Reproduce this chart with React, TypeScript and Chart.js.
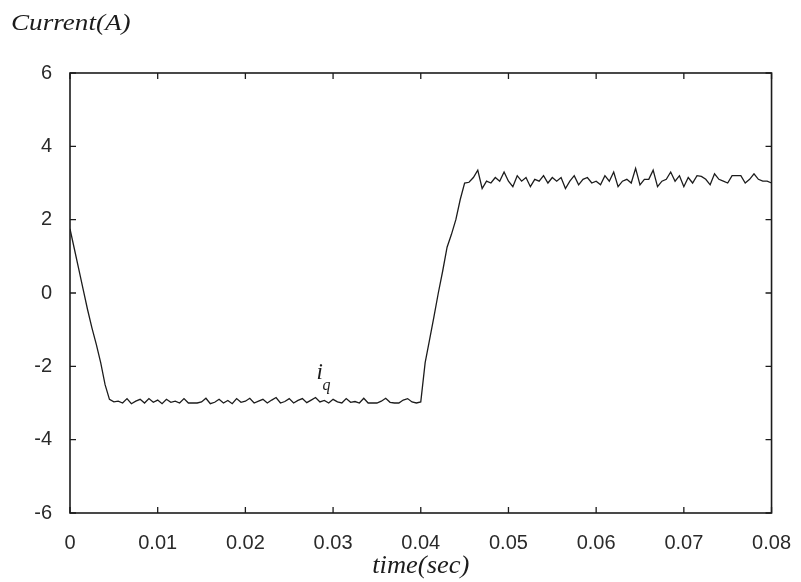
import React, { useEffect, useRef } from "react";
import { Chart, registerables } from "chart.js";

Chart.register(...registerables);

// time (sec)
const times: number[] = [
  0, 0.0005, 0.001, 0.0015, 0.002, 0.0025, 0.003, 0.0035, 0.004, 0.0045,
  0.005, 0.0055, 0.006, 0.0065, 0.007, 0.0075, 0.008, 0.0085, 0.009, 0.0095,
  0.01, 0.0105, 0.011, 0.0115, 0.012, 0.0125, 0.013, 0.0135, 0.014, 0.0145,
  0.015, 0.0155, 0.016, 0.0165, 0.017, 0.0175, 0.018, 0.0185, 0.019, 0.0195,
  0.02, 0.0205, 0.021, 0.0215, 0.022, 0.0225, 0.023, 0.0235, 0.024, 0.0245,
  0.025, 0.0255, 0.026, 0.0265, 0.027, 0.0275, 0.028, 0.0285, 0.029, 0.0295,
  0.03, 0.0305, 0.031, 0.0315, 0.032, 0.0325, 0.033, 0.0335, 0.034, 0.0345,
  0.035, 0.0355, 0.036, 0.0365, 0.037, 0.0375, 0.038, 0.0385, 0.039, 0.0395,
  0.04, 0.0405, 0.041, 0.0415, 0.042, 0.0425, 0.043, 0.0435, 0.044, 0.0445,
  0.045, 0.0455, 0.046, 0.0465, 0.047, 0.0475, 0.048, 0.0485, 0.049, 0.0495,
  0.05, 0.0505, 0.051, 0.0515, 0.052, 0.0525, 0.053, 0.0535, 0.054, 0.0545,
  0.055, 0.0555, 0.056, 0.0565, 0.057, 0.0575, 0.058, 0.0585, 0.059, 0.0595,
  0.06, 0.0605, 0.061, 0.0615, 0.062, 0.0625, 0.063, 0.0635, 0.064, 0.0645,
  0.065, 0.0655, 0.066, 0.0665, 0.067, 0.0675, 0.068, 0.0685, 0.069, 0.0695,
  0.07, 0.0705, 0.071, 0.0715, 0.072, 0.0725, 0.073, 0.0735, 0.074, 0.0745,
  0.075, 0.0755, 0.076, 0.0765, 0.077, 0.0775, 0.078, 0.0785, 0.079, 0.0795,
  0.08,
];

// i_q current (A)
const iq: number[] = [
  1.75, 1.2, 0.65, 0.1, -0.45, -0.95, -1.4, -1.9, -2.5, -2.9,
  -2.97, -2.95, -3.0, -2.88, -3.02, -2.95, -2.9, -3.0, -2.88, -2.98,
  -2.92, -3.02, -2.9, -2.98, -2.95, -3.0, -2.88, -3.0, -3.0, -3.0,
  -2.97, -2.87, -3.02, -2.98, -2.9, -3.0, -2.93, -3.02, -2.88, -2.98,
  -2.95, -2.87, -3.0, -2.95, -2.9, -3.0, -2.92, -2.85, -3.0, -2.96,
  -2.88, -3.0, -2.93, -2.88, -2.99, -2.92, -2.85, -2.97, -2.93, -3.0,
  -2.9, -2.97, -3.0, -2.88, -2.98, -2.96, -3.0, -2.87, -3.0, -3.0,
  -3.0, -2.95, -2.87, -2.98, -3.0, -3.0, -2.92, -2.88, -2.97, -3.0,
  -2.97, -1.9, -1.28, -0.65, 0.0, 0.6, 1.25, 1.6, 2.0, 2.55,
  3.0, 3.02, 3.15, 3.35, 2.85, 3.05, 3.0, 3.15, 3.05, 3.3,
  3.05, 2.9, 3.2, 3.05, 3.15, 2.9, 3.1, 3.05, 3.2, 3.0,
  3.15, 3.05, 3.15, 2.85, 3.05, 3.2, 2.95, 3.1, 3.15, 3.0,
  3.05, 2.95, 3.2, 3.05, 3.3, 2.9, 3.05, 3.1, 3.0, 3.4,
  2.95, 3.1, 3.1, 3.35, 2.9, 3.05, 3.1, 3.3, 3.05, 3.2,
  2.9, 3.15, 3.0, 3.2, 3.18, 3.1, 2.95, 3.25, 3.1, 3.05,
  3.0, 3.2, 3.2, 3.2, 3.0, 3.1, 3.25, 3.1, 3.05, 3.05,
  3.0,
];

const yTitle = "Current(A)";
const xTitle = "time(sec)";
const seriesLabel = "i";
const seriesSub = "q";
const seriesLabelAt = { x: 0.0281, y: -2.35 };

const xMin = 0, xMax = 0.08, xStep = 0.01;
const yMin = -6, yMax = 6, yStep = 2;

const INK = "#1c1c1c";

const framePlugin = {
  id: "frame",
  afterDraw(chart: any) {
    const { ctx, chartArea: a, scales } = chart;
    const xs = scales.x, ys = scales.y;
    ctx.save();
    ctx.strokeStyle = INK;
    ctx.lineWidth = 1.6;
    ctx.strokeRect(a.left, a.top, a.right - a.left, a.bottom - a.top);
    ctx.lineWidth = 1.3;
    const tl = 6;
    ctx.beginPath();
    xs.ticks.forEach((t: any) => {
      const px = xs.getPixelForValue(t.value);
      ctx.moveTo(px, a.bottom);
      ctx.lineTo(px, a.bottom - tl);
      ctx.moveTo(px, a.top);
      ctx.lineTo(px, a.top + tl);
    });
    ys.ticks.forEach((t: any) => {
      const py = ys.getPixelForValue(t.value);
      ctx.moveTo(a.left, py);
      ctx.lineTo(a.left + tl, py);
      ctx.moveTo(a.right, py);
      ctx.lineTo(a.right - tl, py);
    });
    ctx.stroke();

    ctx.fillStyle = INK;
    ctx.textBaseline = "alphabetic";
    // y title at top-left
    ctx.save();
    ctx.translate(11, 30);
    ctx.scale(1.18, 1);
    ctx.font = "italic 23px 'Liberation Serif'";
    ctx.textAlign = "left";
    ctx.fillText(yTitle, 0, 0);
    ctx.restore();
    // x title
    ctx.save();
    ctx.translate((a.left + a.right) / 2, 573);
    ctx.scale(1.06, 1);
    ctx.font = "italic 25px 'Liberation Serif'";
    ctx.textAlign = "center";
    ctx.fillText(xTitle, 0, 0);
    ctx.restore();
    // series label i_q
    const lx = xs.getPixelForValue(seriesLabelAt.x);
    const ly = ys.getPixelForValue(seriesLabelAt.y);
    ctx.textAlign = "left";
    ctx.font = "italic 23px 'Liberation Serif'";
    ctx.fillText(seriesLabel, lx, ly);
    ctx.font = "italic 16px 'Liberation Serif'";
    ctx.fillText(seriesSub, lx + 6, ly + 11);
    ctx.restore();
  },
};

export default function App() {
  const ref = useRef<HTMLCanvasElement | null>(null);
  useEffect(() => {
    if (!ref.current) return;
    const chart = new Chart(ref.current, {
      type: "line",
      data: {
        datasets: [
          {
            label: "iq",
            data: times.map((t, i) => ({ x: t, y: iq[i] })),
            borderColor: INK,
            borderWidth: 1.3,
            pointRadius: 0,
            tension: 0,
            fill: false,
          },
        ],
      },
      options: {
        responsive: false,
        animation: false,
        events: [],
        layout: { padding: { left: 0, top: 73, right: 28, bottom: 0 } },
        plugins: {
          legend: { display: false },
          tooltip: { enabled: false },
          title: { display: false },
        },
        scales: {
          x: {
            type: "linear",
            min: xMin,
            max: xMax,
            grid: { display: false },
            border: { display: false },
            afterFit: (s: any) => {
              s.height = 69;
            },
            ticks: {
              stepSize: xStep,
              padding: 10,
              color: "#2a2a2a",
              font: { family: "'Liberation Sans'", size: 20 },
              maxRotation: 0,
              autoSkip: false,
              callback: (v: any) => (Number(v) === 0 ? "0" : Number(v).toFixed(2)),
            },
          },
          y: {
            type: "linear",
            min: yMin,
            max: yMax,
            grid: { display: false },
            border: { display: false },
            afterFit: (s: any) => {
              s.width = 70;
            },
            ticks: {
              stepSize: yStep,
              padding: 10,
              color: "#2a2a2a",
              font: { family: "'Liberation Sans'", size: 20 },
              callback: (v: any) => String(Math.round(Number(v))),
            },
          },
        },
      },
      plugins: [framePlugin],
    });
    return () => chart.destroy();
  }, []);
  return (
    <div style={{ position: "absolute", left: 0, top: 0, width: 801, height: 582, background: "#fff" }}>
      <canvas ref={ref} width={801} height={582} style={{ display: "block" }} />
    </div>
  );
}
